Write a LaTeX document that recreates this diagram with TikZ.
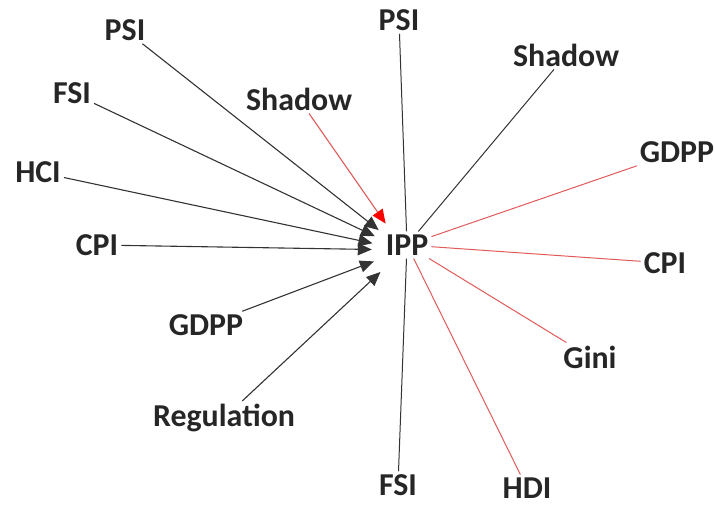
\documentclass[tikz,border=0pt]{standalone}
\usepackage{fontspec}
\setmainfont{Carlito}
\usetikzlibrary{arrows.meta}
\definecolor{txt}{HTML}{262626}
\definecolor{ln}{HTML}{333333}
\definecolor{lred}{HTML}{E05A5A}
\begin{document}
\begin{tikzpicture}[x=1bp,y=-1bp,
  lbl/.style={font=\fontsize{32}{34}\selectfont\bfseries, text=txt, inner sep=3bp},
  inarrow/.style={draw=ln, line width=1.1bp, -{Triangle[length=14bp,width=12bp]}},
  inred/.style={draw=lred, line width=1.1bp, -{Triangle[length=14bp,width=12bp,color=red]}},
  outblack/.style={draw=ln, line width=1bp},
  outred/.style={draw=lred, line width=1bp}]
\useasboundingbox (0,0) rectangle (715,506);
\node[lbl] (ipp) at (407,245) {IPP};
\node[circle, minimum size=64bp, inner sep=0pt] (hub) at (404,250) {};
% left sources
\node[lbl] (psiL) at (125,30) {PSI};
\node[lbl] (fsiL) at (72,93) {FSI};
\node[lbl] (hci) at (38,172) {HCI};
\node[lbl] (cpiL) at (97,245) {CPI};
\node[lbl] (shL) at (299,99) {Shadow};
\node[lbl] (gdppL) at (206,325) {GDPP};
\node[lbl] (reg) at (224,418) {Regulation};
% right targets
\node[lbl] (psiR) at (399,20) {PSI};
\node[lbl] (shR) at (566,55) {Shadow};
\node[lbl] (gdppR) at (677,152) {GDPP};
\node[lbl] (cpiR) at (665,263) {CPI};
\node[lbl] (gini) at (590,357) {Gini};
\node[lbl] (hdi) at (527,488) {HDI};
\node[lbl] (fsiB) at (398,485) {FSI};
% incoming arrows
\draw[inarrow] (psiL) -- (hub);
\draw[inarrow] (fsiL) -- (hub);
\draw[inarrow] (hci) -- (hub);
\draw[inarrow] (cpiL) -- (hub);
\draw[inarrow] (gdppL) -- (hub);
\draw[inarrow] (reg) -- (hub);
\draw[inred] (shL) -- (hub);
% outgoing lines
\draw[outblack] (ipp) -- (psiR);
\draw[outblack] (ipp) -- (shR);
\draw[outred] (ipp) -- (gdppR);
\draw[outred] (ipp) -- (cpiR);
\draw[outred] (ipp) -- (gini);
\draw[outred] (ipp) -- (hdi);
\draw[outblack] (ipp) -- (fsiB);
\end{tikzpicture}
\end{document}
